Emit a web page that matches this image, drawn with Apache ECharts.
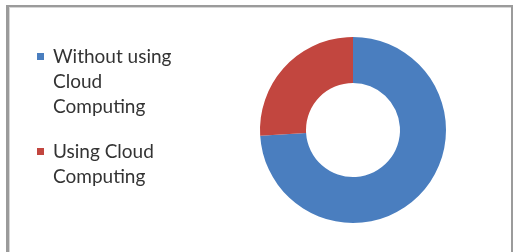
<!DOCTYPE html>
<html>
<head>
<meta charset="utf-8">
<script src="https://cdn.jsdelivr.net/npm/echarts@6/dist/echarts.min.js"></script>
<style>
    html, body { margin: 0; padding: 0; background: #fff; }
    #frame {
        position: absolute; left: 6px; top: 5px; width: 502px; height: 262px;
        border: 2px solid #9b9b9b; border-bottom: none;
        border-left-width: 3px;
        box-shadow: inset 1px 1px 0 #d6d6d6;
    }
    #main { position: absolute; left: 0; top: 0; width: 513px; height: 252px; }
</style>
</head>
<body>
<div id="frame"></div>
<div id="main"></div>
<script>
    // data
    var categories = ['Without using Cloud Computing', 'Using Cloud Computing'];
    var values = [74, 26];
    // how the legend breaks the names
    var legendLines = [['Without using', 'Cloud', 'Computing'], ['Using Cloud', 'Computing']];
    var colors = ['#4a7ebf', '#c2463f'];

    var lineH = 25;
    var myChart = echarts.init(document.getElementById('main'));

    // legend text is centred on the icon, so put blank lines on top
    // until the first real line is the middle one
    function legendText(name) {
        var lines = legendLines[categories.indexOf(name)];
        var pad = [];
        for (var k = 1; k < lines.length; k++) pad.push('');
        return pad.concat(lines).join('\n');
    }

    var option = {
        animation: false,
        color: colors,
        legend: {
            orient: 'vertical',
            left: 37,
            top: -6,
            padding: 0,
            itemWidth: 7,
            itemHeight: 7,
            itemGap: -5,
            icon: 'rect',
            selectedMode: false,
            data: categories,
            formatter: legendText,
            textStyle: {
                fontFamily: 'Lato',
                fontSize: 19,
                lineHeight: lineH,
                color: '#333',
                padding: [0, 0, 0, 4]
            }
        },
        series: [{
            type: 'pie',
            center: [353, 130],
            radius: [47, 93],
            startAngle: 90,
            clockwise: true,
            silent: true,
            label: { show: false },
            labelLine: { show: false },
            data: categories.map(function(name, i) {
                return { name: name, value: values[i] };
            })
        }]
    };

    myChart.setOption(option);
</script>
</body>
</html>
